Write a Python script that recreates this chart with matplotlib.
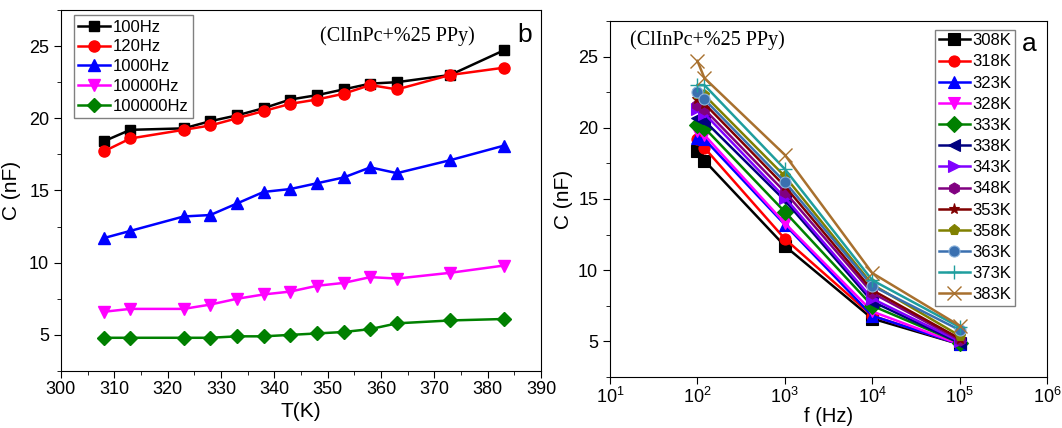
import matplotlib
matplotlib.use("Agg")
import matplotlib.pyplot as plt
from matplotlib.ticker import MultipleLocator, LogLocator, NullLocator

# temperatures (K) and frequencies (Hz)
temps = [308, 313, 323, 328, 333, 338, 343, 348, 353, 358, 363, 373, 383]
freqs = [100, 120, 1000, 10000, 100000]

# capacitance (nF) at each frequency, one value per temperature
c_100 = [18.4, 19.2, 19.3, 19.8, 20.2, 20.7, 21.3, 21.6, 22.0, 22.4, 22.5, 23.0, 24.7]
c_120 = [17.7, 18.6, 19.2, 19.5, 20.0, 20.5, 21.0, 21.3, 21.7, 22.3, 22.0, 23.0, 23.5]
c_1000 = [11.7, 12.2, 13.2, 13.3, 14.1, 14.9, 15.1, 15.5, 15.9, 16.6, 16.2, 17.1, 18.1]
c_10000 = [6.6, 6.8, 6.8, 7.1, 7.5, 7.8, 8.0, 8.4, 8.6, 9.0, 8.9, 9.3, 9.8]
c_100000 = [4.8, 4.8, 4.8, 4.8, 4.9, 4.9, 5.0, 5.1, 5.2, 5.4, 5.8, 6.0, 6.1]

freq_labels = ['100Hz', '120Hz', '1000Hz', '10000Hz', '100000Hz']
# legend labels of the right panel (same rows as temps)
temp_labels = ['308K', '318K', '323K', '328K', '333K', '338K', '343K',
               '348K', '353K', '358K', '363K', '373K', '383K']

plt.rcParams['font.family'] = ['Liberation Sans', 'DejaVu Sans']

fig = plt.figure(figsize=(10.62, 4.28), dpi=100)
axb = fig.add_axes([0.0574, 0.1332, 0.452, 0.8435])
axa = fig.add_axes([0.5744, 0.1192, 0.4115, 0.8318])

series = [c_100, c_120, c_1000, c_10000, c_100000]
left_colors = ['black', 'red', 'blue', 'magenta', 'green']
left_markers = ['s', 'o', '^', 'v', 'D']
left_ms = [7, 8, 8, 8, 7]

for vals, col, mk, ms, lab in zip(series, left_colors, left_markers, left_ms, freq_labels):
    axb.plot(temps, vals, color=col, marker=mk, ms=ms, lw=1.8, label=lab)

axb.set_xlim(300, 390)
axb.set_ylim(2.5, 27.5)
axb.xaxis.set_major_locator(MultipleLocator(10))
axb.xaxis.set_minor_locator(MultipleLocator(5))
axb.yaxis.set_major_locator(MultipleLocator(5))
axb.yaxis.set_minor_locator(MultipleLocator(2.5))
axb.set_xlabel('T(K)', fontsize=15, labelpad=3)
axb.set_ylabel('C (nF)', fontsize=15, labelpad=6)
axb.tick_params(which='both', direction='out', labelsize=13)
axb.tick_params(axis='x', pad=2)
axb.tick_params(which='major', length=5)
axb.tick_params(which='minor', length=3)
axb.legend(loc='upper left', bbox_to_anchor=(0.027, 0.985), borderaxespad=0, fontsize=12,
           fancybox=False, edgecolor='gray', handlelength=1.9, labelspacing=0.29,
           handletextpad=0.2, borderpad=0.25, framealpha=1)
axb.text(0.70, 0.955, '(ClInPc+%25 PPy)', transform=axb.transAxes, ha='center', va='top',
         fontsize=14.5, family='Liberation Serif')
axb.text(0.965, 0.965, 'b', transform=axb.transAxes, ha='center', va='top', fontsize=19)

# right panel: capacitance vs frequency for each temperature
right_colors = ['black', 'red', 'blue', 'magenta', 'green', '#000080', '#8000FF',
                '#800080', '#800000', '#808000', '#3A70B0', '#1F9E9E', '#A8702E']
right_markers = ['s', 'o', '^', 'v', 'D', '<', '>', 'h', '*', 'p', 'o', '+', 'x']

for k, lab in enumerate(temp_labels):
    vals = [c_100[k], c_120[k], c_1000[k], c_10000[k], c_100000[k]]
    col = right_colors[k]
    mk = right_markers[k]
    mec = '#8DB4DC' if k == 10 else col
    ms = 10 if mk in '+x' else 8
    axa.plot(freqs, vals, color=col, marker=mk, ms=ms, mec=mec, mew=1.0 if mk in '+x' else 0.8,
             lw=1.8, label=lab)

axa.set_xscale('log')
axa.set_xlim(10, 1e6)
axa.set_ylim(2.5, 27.5)
axa.xaxis.set_major_locator(LogLocator(base=10, numticks=10))
axa.xaxis.set_minor_locator(NullLocator())
axa.yaxis.set_major_locator(MultipleLocator(5))
axa.yaxis.set_minor_locator(MultipleLocator(2.5))
axa.set_xlabel('f (Hz)', fontsize=14.5, labelpad=0)
axa.set_ylabel('C (nF)', fontsize=15, labelpad=4)
axa.tick_params(which='both', direction='out', labelsize=13)
axa.tick_params(axis='x', pad=2)
axa.tick_params(which='major', length=5)
axa.tick_params(which='minor', length=3)
axa.legend(loc='upper right', bbox_to_anchor=(0.927, 0.975), borderaxespad=0, fontsize=12,
           fancybox=False, edgecolor='gray', handlelength=1.9, labelspacing=0.37,
           handletextpad=0.15, borderpad=0.2, framealpha=1)
axa.text(0.045, 0.975, '(ClInPc+%25 PPy)', transform=axa.transAxes, ha='left', va='top',
         fontsize=14.5, family='Liberation Serif')
axa.text(0.96, 0.97, 'a', transform=axa.transAxes, ha='center', va='top', fontsize=19)

fig.savefig('out.png', dpi=100)
